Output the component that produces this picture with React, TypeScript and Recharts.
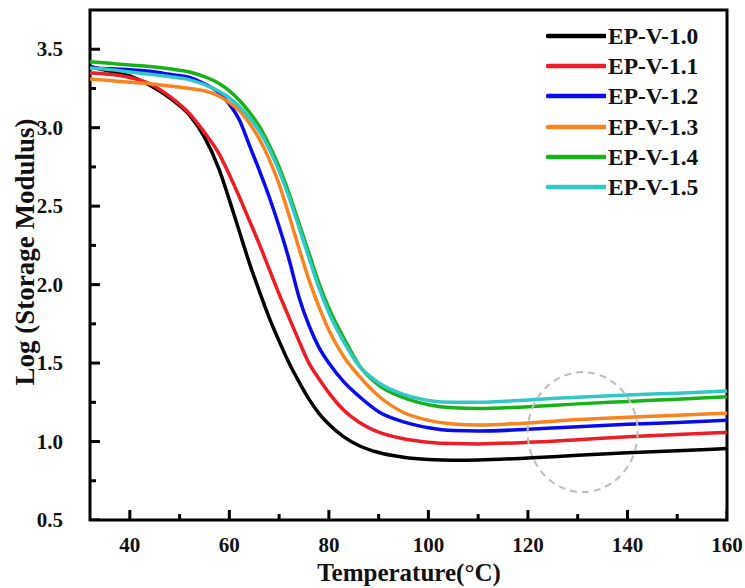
import React from 'react';
import {
  ComposedChart,
  Line,
  XAxis,
  YAxis,
  ReferenceDot,
  ReferenceArea,
} from 'recharts';

// temperature (°C) sample points shared by all curves
const temps = [32, 36, 40, 44, 48, 52, 55, 58, 60, 62, 64, 66, 68, 70, 72, 74, 76, 78, 80, 83, 86, 90, 95, 100, 105, 110, 120, 130, 140, 150, 160];

const ep10 = [3.39, 3.36, 3.33, 3.27, 3.19, 3.08, 2.94, 2.73, 2.54, 2.34, 2.14, 1.96, 1.79, 1.64, 1.5, 1.38, 1.27, 1.18, 1.11, 1.03, 0.975, 0.93, 0.9, 0.885, 0.88, 0.882, 0.895, 0.912, 0.928, 0.942, 0.955];
const ep11 = [3.35, 3.34, 3.32, 3.28, 3.2, 3.09, 2.97, 2.83, 2.7, 2.56, 2.41, 2.26, 2.1, 1.94, 1.79, 1.64, 1.5, 1.4, 1.31, 1.2, 1.125, 1.06, 1.018, 0.996, 0.987, 0.985, 0.995, 1.012, 1.03, 1.045, 1.058];
const ep12 = [3.38, 3.375, 3.37, 3.36, 3.34, 3.32, 3.28, 3.22, 3.15, 3.05, 2.89, 2.73, 2.56, 2.37, 2.16, 1.92, 1.74, 1.6, 1.5, 1.38, 1.29, 1.19, 1.125, 1.088, 1.07, 1.067, 1.078, 1.095, 1.11, 1.122, 1.135];
const ep13 = [3.31, 3.3, 3.29, 3.28, 3.265, 3.25, 3.235, 3.2, 3.16, 3.11, 3.03, 2.93, 2.8, 2.64, 2.44, 2.23, 2.03, 1.86, 1.71, 1.54, 1.42, 1.29, 1.185, 1.135, 1.112, 1.105, 1.118, 1.14, 1.155, 1.168, 1.18];
const ep14 = [3.42, 3.41, 3.4, 3.39, 3.375, 3.355, 3.325, 3.28, 3.235, 3.175, 3.1, 3.01, 2.89, 2.75, 2.58, 2.39, 2.2, 2.01, 1.85, 1.66, 1.49, 1.36, 1.28, 1.235, 1.215, 1.21, 1.222, 1.24, 1.255, 1.27, 1.285];
const ep15 = [3.38, 3.37, 3.355, 3.34, 3.325, 3.305, 3.275, 3.23, 3.19, 3.135, 3.065, 2.98, 2.865, 2.725, 2.555, 2.365, 2.17, 1.98, 1.82, 1.635, 1.485, 1.375, 1.3, 1.262, 1.25, 1.25, 1.265, 1.283, 1.297, 1.308, 1.322];

const seriesNames = ['EP-V-1.0', 'EP-V-1.1', 'EP-V-1.2', 'EP-V-1.3', 'EP-V-1.4', 'EP-V-1.5'];
const seriesValues = [ep10, ep11, ep12, ep13, ep14, ep15];
const colors = ['#000000', '#ee1c25', '#0a0aee', '#f8831f', '#17b217', '#33c8c8'];

const xDomain = [32, 160];
const yDomain = [0.5, 3.75];
const xTicks = [40, 50, 60, 70, 80, 90, 100, 110, 120, 130, 140, 150, 160];
const yTicks = [0.5, 0.75, 1, 1.25, 1.5, 1.75, 2, 2.25, 2.5, 2.75, 3, 3.25, 3.5];

const data = temps.map((t, i) => {
  const row: Record<string, number> = { t };
  seriesNames.forEach((name, s) => {
    row[name] = seriesValues[s][i];
  });
  return row;
});

const isMajorX = (t: number) => t % 20 === 0;
const isMajorY = (v: number) => Math.abs((v * 2) % 1) < 1e-6;

// inward tick marks, drawn as tiny two-point segments (lengths in axis units, ~10px / ~6px)
const xTickSegs = xTicks.map((t) => {
  const len = isMajorX(t) ? 0.064 : 0.038;
  return [{ t, mark: yDomain[0] }, { t, mark: yDomain[0] + len }];
});
const yTickSegs = yTicks.map((v) => {
  const len = isMajorY(v) ? 2.0 : 1.2;
  return [{ t: xDomain[0], mark: v }, { t: xDomain[0] + len, mark: v }];
});

const FONT = '"Liberation Serif", "Times New Roman", serif';

const XTick = (props: any) => {
  const { x, y, payload } = props;
  if (!isMajorX(payload.value)) return <g />;
  return (
    <text x={x} y={y + 32} textAnchor="middle" fontFamily={FONT} fontWeight="bold" fontSize={21} fill="#111">
      {payload.value}
    </text>
  );
};

const YTick = (props: any) => {
  const { x, y, payload } = props;
  if (!isMajorY(payload.value)) return <g />;
  return (
    <text x={x - 27} y={y + 7} textAnchor="end" fontFamily={FONT} fontWeight="bold" fontSize={21} fill="#111">
      {payload.value.toFixed(1)}
    </text>
  );
};

const YTitle = () => (
  <text
    x={25}
    y={252}
    transform="rotate(-90, 25, 252)"
    textAnchor="middle"
    dominantBaseline="central"
    fontFamily={FONT}
    fontWeight="bold"
    fontSize={27}
    fill="#111"
  >
    Log (Storage Modulus)
  </text>
);

const XTitle = () => (
  <text x={409} y={581} textAnchor="middle" fontFamily={FONT} fontWeight="bold" fontSize={25} fill="#111">
    Temperature(°C)
  </text>
);

const Legend = () => (
  <div style={{ position: 'absolute', left: 546, top: 21 }}>
    {seriesNames.map((name, i) => (
      <div key={name} style={{ display: 'flex', alignItems: 'center', height: 30.2 }}>
        <svg width={60} height={10} style={{ display: 'block' }}>
          <line x1={2} x2={59} y1={5} y2={5} stroke={colors[i]} strokeWidth={4.5} strokeLinecap="round" />
        </svg>
        <span style={{ fontFamily: FONT, fontWeight: 'bold', fontSize: 23.5, color: '#111', marginLeft: 2, lineHeight: '30px' }}>
          {name}
        </span>
      </div>
    ))}
  </div>
);

export default function App() {
  return (
    <div style={{ position: 'absolute', left: 0, top: 0, width: 745, height: 588, background: '#fff' }}>
      <ComposedChart width={745} height={588} data={data} margin={{ top: 10, right: 18, left: 0, bottom: 0 }}>
        <XAxis
          dataKey="t"
          type="number"
          domain={xDomain}
          ticks={xTicks}
          interval={0}
          height={68}
          tickSize={0}
          tickMargin={0}
          tickLine={false}
          tick={<XTick />}
          axisLine={false}
          allowDataOverflow
          label={<XTitle />}
        />
        <YAxis
          type="number"
          domain={yDomain}
          ticks={yTicks}
          interval={0}
          width={90}
          tickSize={0}
          tickMargin={0}
          tickLine={false}
          tick={<YTick />}
          axisLine={false}
          allowDataOverflow
          label={<YTitle />}
        />
        <ReferenceDot
          x={131}
          y={1.06}
          r={1}
          ifOverflow="visible"
          shape={(p: any) => (
            <ellipse cx={p.cx} cy={p.cy} rx={55} ry={60} fill="none" stroke="#bdbdbd" strokeWidth={2} strokeDasharray="7 5" />
          )}
        />
        {seriesNames.map((name, i) => (
          <Line
            key={name}
            type="monotone"
            dataKey={name}
            stroke={colors[i]}
            strokeWidth={3.5}
            dot={false}
            activeDot={false}
            isAnimationActive={false}
          />
        ))}
        {xTickSegs.map((seg, i) => (
          <Line
            key={`xs${i}`}
            data={seg}
            dataKey="mark"
            type="linear"
            stroke="#000"
            strokeWidth={3}
            dot={false}
            activeDot={false}
            legendType="none"
            isAnimationActive={false}
          />
        ))}
        {yTickSegs.map((seg, i) => (
          <Line
            key={`ys${i}`}
            data={seg}
            dataKey="mark"
            type="linear"
            stroke="#000"
            strokeWidth={3}
            dot={false}
            activeDot={false}
            legendType="none"
            isAnimationActive={false}
          />
        ))}
        <ReferenceArea
          x1={xDomain[0]}
          x2={xDomain[1]}
          y1={yDomain[0]}
          y2={yDomain[1]}
          ifOverflow="visible"
          fill="none"
          fillOpacity={0}
          stroke="#000"
          strokeWidth={3}
        />
      </ComposedChart>
      <Legend />
    </div>
  );
}
